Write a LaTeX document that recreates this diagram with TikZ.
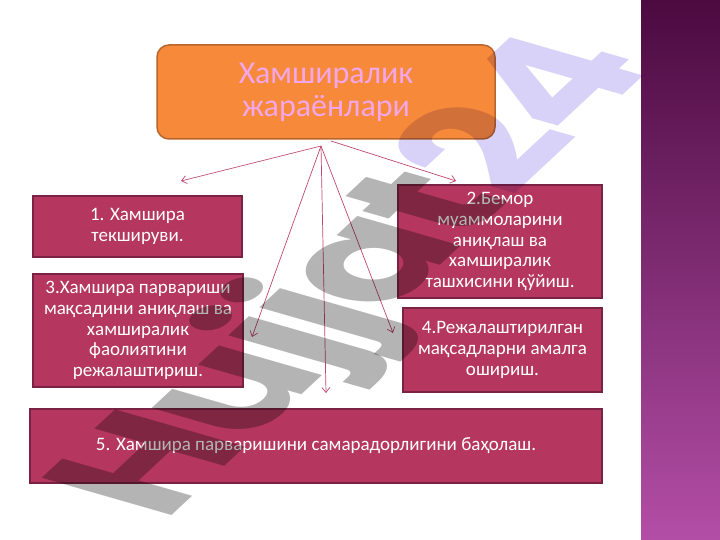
\documentclass[tikz,border=0pt]{standalone}
\usepackage{fontspec}
\setmainfont{Carlito}
\newfontfamily\wmfont{Poppins}[LetterSpace=-4]
\usetikzlibrary{arrows.meta}
\definecolor{boxfill}{HTML}{B5375F}
\definecolor{boxline}{HTML}{7A2243}
\definecolor{orfill}{HTML}{F7893B}
\definecolor{orline}{HTML}{B9652E}
\definecolor{titletxt}{HTML}{F3A6E8}
\definecolor{arr}{HTML}{C0466F}
\definecolor{wmgray}{HTML}{B4B4B4}
\definecolor{wmlav}{HTML}{D8D2F8}
\definecolor{bartop}{HTML}{4B0A40}
\definecolor{barbot}{HTML}{B34EA6}
\begin{document}
\begin{tikzpicture}[x=1pt,y=-1pt,
  stepbox/.style={draw=boxline, line width=1.2pt, fill=boxfill, text=white,
    font=\fontsize{19}{20.7}\selectfont, align=center, inner sep=0pt},
  conn/.style={draw=arr, line width=0.7pt, -{Straight Barb[length=5pt,width=8pt]}}]
\useasboundingbox (0,0) rectangle (720,540);
\fill[white] (0,0) rectangle (720,540);
\shade[top color=bartop, bottom color=barbot] (641,0) rectangle (720,540);
% title
\node[draw=orline, line width=1.5pt, fill=orfill, rounded corners=12pt,
  minimum width=338pt, minimum height=94pt, inner sep=0pt, align=center,
  text=titletxt, font=\fontsize{32}{33}\selectfont] (title) at (326,92)
  {Хамширалик\\жараёнлари};
% steps
\node[stepbox, minimum width=209pt, minimum height=61pt] (s1) at (137.5,226.5)
  {1. Хамшира\\текшируви.};
\node[stepbox, minimum width=210pt, minimum height=113pt] (s3) at (138,330.5)
  {3.Хамшира парвариши\\мақсадини аниқлаш ва\\хамширалик\\фаолиятини\\режалаштириш.};
\node[stepbox, minimum width=204pt, minimum height=113pt] (s2) at (500,241.5)
  {2.Бемор\\муаммоларини\\аниқлаш ва\\хамширалик\\ташхисини қўйиш.};
\node[stepbox, minimum width=199pt, minimum height=84pt] (s4) at (502.5,350)
  {4.Режалаштирилган\\мақсадларни амалга\\ошириш.};
\node[stepbox, minimum width=572pt, minimum height=74pt] (s5) at (316,446)
  {5. Хамшира парваришини самарадорлигини баҳолаш.};
% connectors
\coordinate (hubA) at (321,146);
\coordinate (hubB) at (331,141);
\coordinate (e1) at (181,181);
\coordinate (e2) at (456,181);
\coordinate (e3) at (252,337);
\coordinate (e5) at (326,393);
\coordinate (e4) at (393,333);
\draw[conn] (hubA) -- (e1);
\draw[conn] (hubB) -- (e2);
\draw[conn] (hubA) -- (e3);
\draw[conn] (hubA) -- (e5);
\draw[conn] (hubA) -- (e4);
% watermark
\begin{scope}[blend mode=multiply]
\node[rotate=43, xslant=-0.6, inner sep=0pt, font=\wmfont\bfseries\fontsize{165}{165}\selectfont] (wm) at (362,278)
  {{\color{wmgray}Hujjat}{\color{wmlav}24}};
\end{scope}
\end{tikzpicture}
\end{document}
